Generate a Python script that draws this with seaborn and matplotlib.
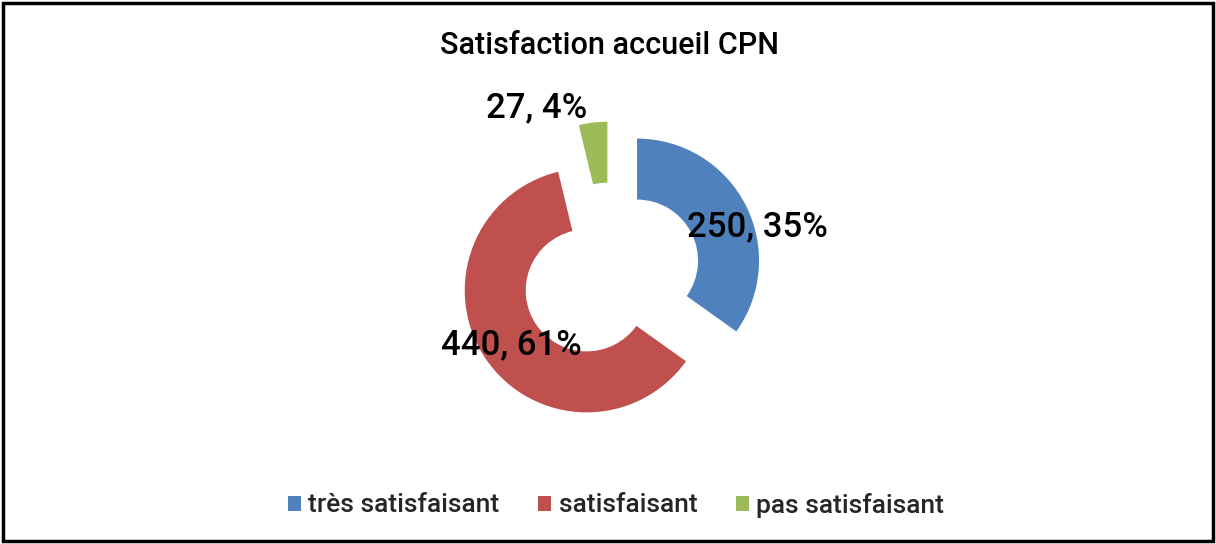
import matplotlib
matplotlib.use("Agg")
import matplotlib.pyplot as plt
import seaborn as sns
from matplotlib.patches import Rectangle

# data
categories = ["très satisfaisant", "satisfaisant", "pas satisfaisant"]
counts = [250, 440, 27]
percents = [35, 61, 4]
title = "Satisfaction accueil CPN"

sns.set_theme(style="white")
plt.rcParams["font.family"] = ["Roboto", "DejaVu Sans"]

colors = ["#4F81BD", "#C0504D", "#9BBB59"]

fig = plt.figure(figsize=(12.16, 5.44), dpi=100)
ax = fig.add_axes([367 / 1216, 26 / 544, 488 / 1216, 488 / 544])

wedges, _ = ax.pie(counts, colors=colors, startangle=90, counterclock=False,
                   explode=[0.24, 0.24, 0.25], radius=1.0,
                   wedgeprops=dict(width=0.5, linewidth=0))
ax.set_xlim(-2, 2)
ax.set_ylim(-2, 2)
ax.set_aspect("equal")
ax.axis("off")

# label spots (data coords of the pie axes)
label_pos = [(1.20, 0.385), (-0.82, -0.58), (-0.61, 1.36)]
for (x, y), n, p in zip(label_pos, counts, percents):
    ax.text(x, y, "{}, {}%".format(n, p), ha="center", va="center",
            fontsize=25, weight="medium", color="black")

fig.text(610 / 1216, 1 - 46 / 544, title, ha="center", va="center",
         fontsize=22, weight="medium", color="black")

leg = fig.legend(wedges, categories, loc="center", ncol=3,
                 bbox_to_anchor=(616 / 1216, 1 - 505 / 544), frameon=False,
                 prop=dict(size=19, weight="medium"),
                 handlelength=0.5, handleheight=0.5,
                 handletextpad=0.28, columnspacing=1.45)

fig.patches.append(Rectangle((3 / 1216, 3 / 544), 1210 / 1216, 538 / 544,
                             transform=fig.transFigure, fill=False,
                             edgecolor="black", linewidth=2.5))

fig.savefig("out.png", dpi=100)
